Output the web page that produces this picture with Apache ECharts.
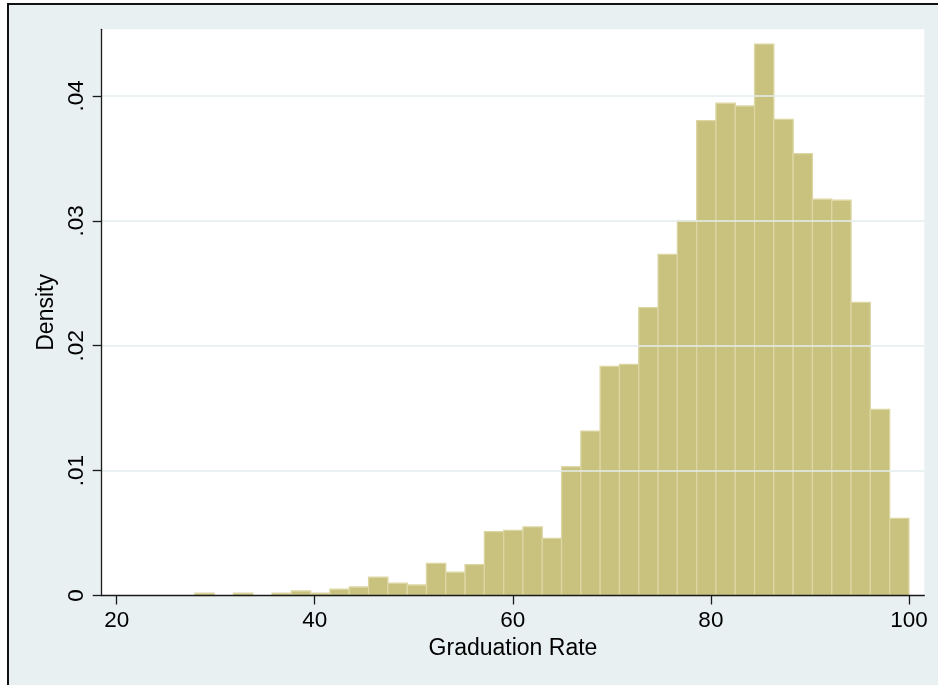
<!DOCTYPE html>
<html>
<head>
<meta charset="utf-8">
<script src="https://cdn.jsdelivr.net/npm/echarts@6/dist/echarts.min.js"></script>
<style>
  html, body { margin: 0; padding: 0; background: #ffffff; }
  #chart { width: 938px; height: 685px; }
</style>
</head>
<body>
<div id="chart"></div>
<script>
// Histogram of graduation rates: 37 equal-width bins ending at 100
const binStart = 27.9;
const binEnd = 100;
const densities = [
  0.00018, 0, 0.00018, 0, 0.00018, 0.00036, 0.00018, 0.0005, 0.00068, 0.00146,
  0.00098, 0.00084, 0.00258, 0.00186, 0.00247, 0.00511, 0.00522, 0.00549, 0.00458, 0.01031,
  0.01317, 0.01835, 0.01851, 0.02305, 0.02732, 0.03001, 0.03802, 0.03942, 0.0392, 0.04416,
  0.03813, 0.03538, 0.03173, 0.03165, 0.02348, 0.01491, 0.00618
];
const xTicks = [20, 40, 60, 80, 100];
const yTicks = [0, 0.01, 0.02, 0.03, 0.04];
const xTitle = 'Graduation Rate';
const yTitle = 'Density';

const binWidth = (binEnd - binStart) / densities.length;
const bins = densities.map((d, i) => [binStart + i * binWidth, binStart + (i + 1) * binWidth, d]);

const font = 'Liberation Sans, Arial, Helvetica, sans-serif';
const chart = echarts.init(document.getElementById('chart'), null, { renderer: 'canvas' });

chart.setOption({
  animation: false,
  backgroundColor: '#ffffff',
  graphic: [{
    type: 'rect',
    z: -10,
    shape: { x: 8, y: 4, width: 1200, height: 1200 },
    style: { fill: '#E8F0F2', stroke: '#111111', lineWidth: 2 }
  }],
  grid: {
    left: 101.7, top: 29.3, right: 13.7, bottom: 89.5,
    show: true, backgroundColor: '#ffffff', borderWidth: 0
  },
  xAxis: {
    type: 'value',
    z: 5,
    min: 18.49, max: 101.55,
    name: xTitle,
    nameLocation: 'middle',
    nameGap: 40,
    nameTextStyle: { fontFamily: font, fontSize: 23, color: '#000' },
    axisLine: { show: true, onZero: false, lineStyle: { color: '#1a1a1a', width: 1.3 } },
    axisTick: { show: true, length: 9, customValues: xTicks, lineStyle: { color: '#1a1a1a', width: 1.3 } },
    axisLabel: { customValues: xTicks, margin: 14, fontFamily: font, fontSize: 22.5, color: '#000' },
    splitLine: { show: false }
  },
  yAxis: {
    type: 'value',
    z: 5,
    min: 0, max: 0.04534,
    name: yTitle,
    nameLocation: 'middle',
    nameRotate: 90,
    nameGap: 41,
    nameTextStyle: { fontFamily: font, fontSize: 23, color: '#000' },
    axisLine: { show: true, onZero: false, lineStyle: { color: '#1a1a1a', width: 1.3 } },
    axisTick: { show: true, length: 9, customValues: yTicks, lineStyle: { color: '#1a1a1a', width: 1.3 } },
    axisLabel: {
      customValues: yTicks,
      rotate: 90,
      margin: 13,
      fontFamily: font, fontSize: 22.5, color: '#000',
      formatter: v => v === 0 ? '0' : String(Number(v.toFixed(2))).replace(/^0/, '')
    },
    splitLine: { show: false }
  },
  series: [
    {
      // horizontal reference lines behind the bars
      type: 'line',
      data: [],
      z: 1,
      silent: true,
      markLine: {
        silent: true,
        symbol: 'none',
        label: { show: false },
        lineStyle: { color: '#E3ECEE', width: 1.5, type: 'solid' },
        data: yTicks.filter(v => v > 0).map(v => ({ yAxis: v }))
      }
    },
    {
      type: 'custom',
      z: 2,
      data: bins,
      encode: { x: [0, 1], y: 2 },
      renderItem: (params, api) => {
        if (!(api.value(2) > 0)) return null;
        const p0 = api.coord([api.value(0), api.value(2)]);
        const p1 = api.coord([api.value(1), 0]);
        return {
          type: 'rect',
          shape: { x: p0[0], y: p0[1], width: p1[0] - p0[0], height: p1[1] - p0[1] },
          style: { fill: '#C9C17E', stroke: '#DCD6A3', lineWidth: 1.3 }
        };
      }
    }
  ]
});
</script>
</body>
</html>
